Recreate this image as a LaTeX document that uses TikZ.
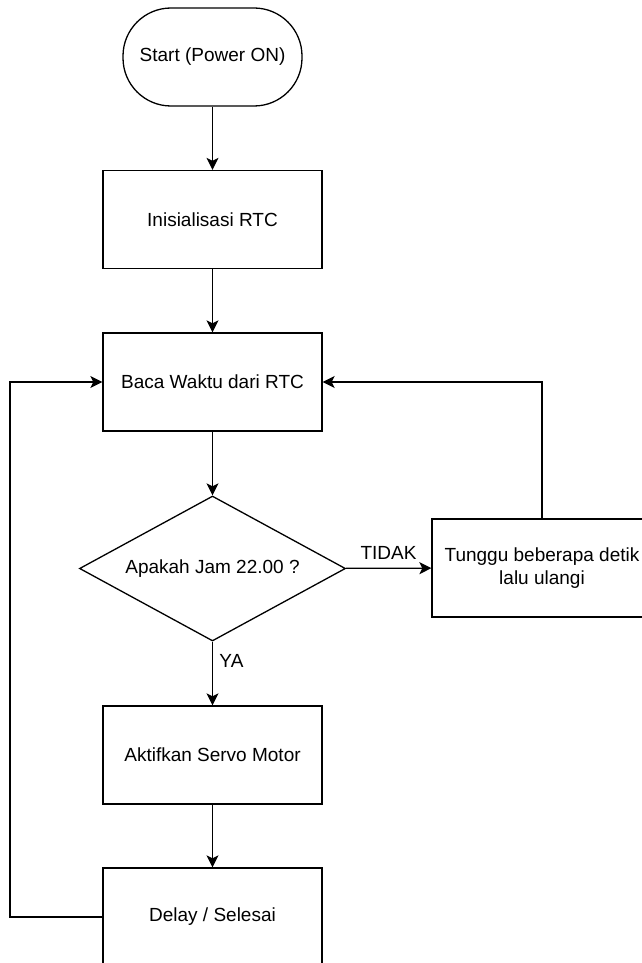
\documentclass[tikz,border=0pt]{standalone}
\usepackage{fontspec}
\setmainfont{Liberation Sans}
\usetikzlibrary{shapes.geometric,arrows.meta}

\tikzset{
	proses/.style={draw, line width=1.3pt, minimum width=219pt, minimum height=98pt, inner sep=0pt, align=center},
	mulai/.style={draw, line width=1.3pt, rounded corners=48pt, minimum width=179pt, minimum height=98pt, inner sep=0pt},
	keputusan/.style={draw, diamond, line width=1.3pt, aspect=1.83, minimum width=266pt, minimum height=145pt, inner sep=0pt},
	panah/.style={line width=1.3pt, -{Stealth[length=12pt,width=12pt,inset=3pt]}},
	garis/.style={line width=1.3pt}
}

\begin{document}
\begin{tikzpicture}[x=1pt,y=-1pt]
	\fontsize{19}{23}\selectfont
	\def\cx{212.5}
	\useasboundingbox (0,0) rectangle (642,963);
	\clip (0,0) rectangle (642,963);
	\node[mulai] (start) at (\cx,57) {Start (Power ON)};
	\node[proses] (init) at (\cx,219.5) {Inisialisasi RTC};
	\node[proses] (baca) at (\cx,382) {Baca Waktu dari RTC};
	\node[keputusan] (cek) at (\cx,568.5) {Apakah Jam 22.00 ?};
	\node[proses, minimum width=220pt] (tunggu) at (542,568) {Tunggu beberapa detik\\lalu ulangi};
	\node[proses] (aktif) at (\cx,755) {Aktifkan Servo Motor};
	\node[proses] (delay) at (\cx,917) {Delay / Selesai};
	\draw[panah] (start) -- (init);
	\draw[panah] (init) -- (baca);
	\draw[panah] (baca) -- (cek);
	\draw[panah] (cek) -- node[above, yshift=2pt] {TIDAK} (tunggu);
	\draw[panah] (cek) -- node[right, pos=0.3] {YA} (aktif);
	\draw[panah] (aktif) -- (delay);
	% kembali ke baca waktu
	\draw[panah] (tunggu.north) |- (baca.east);
	\draw[panah] (delay.west) -- (10,917) |- (baca.west);
\end{tikzpicture}
\end{document}
